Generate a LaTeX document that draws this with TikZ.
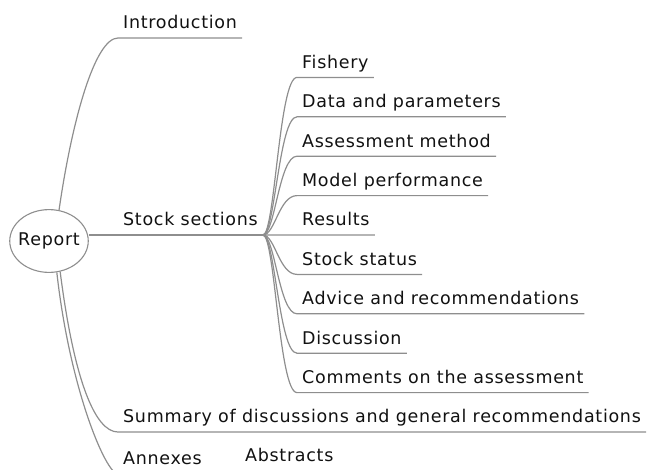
\documentclass[tikz,border=0pt]{standalone}
\usepackage{fontspec}
\setmainfont[LetterSpace=4]{DejaVu Sans}
\usepackage{tikz}
\usetikzlibrary{shapes.geometric}
\definecolor{mapLine}{HTML}{8E8E8E}
\definecolor{mapText}{HTML}{111111}

\tikzset{
  topic/.style={anchor=south west, inner xsep=5pt, inner ysep=0pt,
    text height=13pt, text depth=9pt, text=mapText,
    font=\fontsize{17.5}{20}\selectfont},
  root/.style={ellipse, draw=mapLine, line width=1.1pt, inner xsep=-3pt, inner ysep=14pt,
    text=mapText, font=\fontsize{17.5}{20}\selectfont},
  branch/.style={draw=mapLine, line width=1.2pt},
}

\begin{document}
\begin{tikzpicture}[x=1pt,y=-1pt]
    \useasboundingbox (0,0) rectangle (652,469);
    \node[root] (report) at (49,241) {Report};
    % main branches
    \node[topic] (intro) at (118,38) {Introduction};
    \node[topic] (stock) at (118,235) {Stock sections};
    \node[topic] (summary) at (118,432) {Summary of discussions and general recommendations};
    \node[topic] (annex) at (118,474) {Annexes};
    \node[topic] (abstr) at (240,471) {Abstracts};
    \draw[branch] (report.72) .. controls (72,120) and (95,38) .. (intro.south west) -- (intro.south east);
    \draw[branch] (report.east |- stock.south west) -- (stock.south east);
    \draw[branch] (report.-70) .. controls (74,380) and (95,432) .. (summary.south west) -- (summary.south east);
    \draw[branch] (report.-76) .. controls (70,390) and (106,474) .. (annex.south west) -- (annex.south east);
    \draw[branch] (annex.south east) .. controls +(12,0) and +(-12,0) .. (abstr.south west) -- (abstr.south east);
    % stock sections
    \foreach \lbl [count=\i] in {Fishery, Data and parameters, Assessment method,
        Model performance, Results, Stock status, Advice and recommendations,
        Discussion, Comments on the assessment}{
      \node[topic] (sec\i) at (297,235+39.4*\i-197) {\lbl};
      \draw[branch] (stock.south east) .. controls +(12,0) and +(-18,0) .. (sec\i.south west) -- (sec\i.south east);
    }
\end{tikzpicture}
\end{document}
